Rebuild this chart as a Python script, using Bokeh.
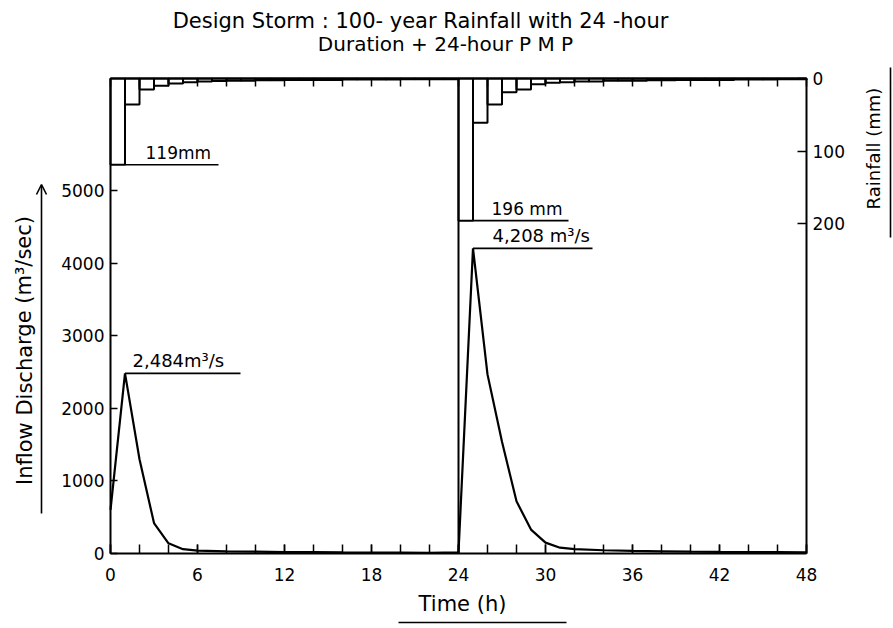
from bokeh.plotting import figure
from bokeh.models import (Range1d, LinearAxis, FixedTicker, Label, Arrow,
                          OpenHead, ColumnDataSource)
from bokeh.embed import file_html
from bokeh.resources import INLINE

# ---------------- data ----------------
rain1_start = list(range(0, 24))
rain1_mm = [119, 36, 15, 10, 7, 5, 4, 3.5, 3, 3, 2.5, 2.5, 2, 2, 2, 2,
            1.5, 1.5, 1.5, 1.5, 1, 1, 1, 1]
rain2_start = list(range(24, 48))
rain2_mm = [196, 61, 36, 19, 15, 8, 6, 5, 4, 4, 3, 3, 3, 2.5, 2.5, 2,
            2, 2, 2, 1.5, 1.5, 1.5, 1, 1]

flow_time = [0, 1, 2, 3, 4, 5, 6, 8, 10, 12, 14, 16, 18, 20, 22, 24,
             25, 26, 27, 28, 29, 30, 31, 32, 34, 36, 38, 40, 42, 44, 46, 48]
flow_q = [600, 2484, 1300, 420, 140, 60, 40, 30, 25, 20, 18, 15, 13, 12, 10, 15,
          4208, 2470, 1540, 720, 330, 150, 80, 60, 45, 35, 30, 25, 22, 20, 18, 15]

x_ticks = [0, 6, 12, 18, 24, 30, 36, 42, 48]
x_minor = list(range(0, 49, 2))
q_ticks = [0, 1000, 2000, 3000, 4000, 5000]
rain_ticks = [0, 100, 200]

peak1_t, peak1_q = 1, 2484
peak2_t, peak2_q = 25, 4208
rainpk1_t, rainpk1_mm = 1, 119
rainpk2_t, rainpk2_mm = 25, 196
event_split_t = 24

title_1 = "Design Storm : 100- year Rainfall with 24 -hour"
title_2 = "Duration + 24-hour P M P"
x_title = "Time (h)"
y_title = "Inflow Discharge (m\u00b3/sec)"
rain_title = "Rainfall (mm)"

# ---------------- layout (pixel box of the chart area) ----------------
WIN_W, WIN_H = 893, 628
L, R, T, B = 110, 806, 78, 553
Q_MAX, RAIN_MAX, T_MAX = 6550, 655, 48
FONT = "DejaVu Sans"
PX_H = (R - L) / T_MAX
PX_Q = (B - T) / Q_MAX
PX_MM = (B - T) / RAIN_MAX

def tx(px):
    return (px - L) / PX_H

def qy(py):
    return (B - py) / PX_Q

def ry(py):
    return (py - T) / PX_MM

# the frame fills the whole canvas; axes are pinned to the chart box
p = figure(width=WIN_W, height=WIN_H, output_backend="svg", toolbar_location=None,
           x_range=Range1d(tx(0), tx(WIN_W)), y_range=Range1d(qy(WIN_H), qy(0)),
           x_axis_location=None, y_axis_location=None,
           min_border=0, background_fill_color="white", border_fill_color="white")
p.extra_y_ranges = {"rain": Range1d(ry(WIN_H), ry(0))}
p.title.visible = False
p.grid.visible = False
p.outline_line_color = None

def style_axis(ax, tin, size="16px", standoff=6):
    ax.axis_line_color = "black"
    ax.axis_line_width = 2
    ax.major_tick_in = tin
    ax.major_tick_out = 0
    ax.minor_tick_in = tin
    ax.minor_tick_out = 0
    ax.major_tick_line_width = 1.5
    ax.minor_tick_line_width = 1.5
    ax.major_label_text_font = FONT
    ax.major_label_text_font_size = size
    ax.major_label_text_color = "black"
    ax.major_label_standoff = standoff

bottom = LinearAxis(ticker=FixedTicker(ticks=x_ticks, minor_ticks=x_minor),
                    bounds=(0, T_MAX), fixed_location=0)
style_axis(bottom, 9, "17px", 14)
p.add_layout(bottom, "below")

top = LinearAxis(ticker=FixedTicker(ticks=x_minor, minor_ticks=[]),
                 bounds=(0, T_MAX), fixed_location=Q_MAX,
                 major_label_overrides={t: "" for t in x_minor})
style_axis(top, 8)
p.add_layout(top, "above")

left = LinearAxis(ticker=FixedTicker(ticks=q_ticks, minor_ticks=[]),
                  bounds=(0, Q_MAX), fixed_location=0)
style_axis(left, 7, "17px", 6)
p.add_layout(left, "left")

right = LinearAxis(y_range_name="rain", ticker=FixedTicker(ticks=rain_ticks, minor_ticks=[]),
                   bounds=(0, RAIN_MAX), fixed_location=T_MAX)
style_axis(right, 9, "17px", 6)
p.add_layout(right, "right")

# ---------------- glyphs ----------------
src1 = ColumnDataSource(dict(left=rain1_start, right=[s + 1 for s in rain1_start], mm=rain1_mm))
src2 = ColumnDataSource(dict(left=rain2_start, right=[s + 1 for s in rain2_start], mm=rain2_mm))
for s in (src1, src2):
    p.quad(left="left", right="right", top=0, bottom="mm", source=s, y_range_name="rain",
           fill_color=None, line_color="black", line_width=2)

p.line(flow_time, flow_q, line_color="black", line_width=2.2)
p.segment(x0=[event_split_t], y0=[0], x1=[event_split_t], y1=[Q_MAX],
          line_color="black", line_width=2)

# leader lines for the peak annotations
p.segment(x0=[rainpk1_t, rainpk2_t], y0=[rainpk1_mm, rainpk2_mm],
          x1=[tx(218), tx(568)], y1=[rainpk1_mm, rainpk2_mm],
          y_range_name="rain", line_color="black", line_width=1.6)
p.segment(x0=[peak1_t, peak2_t], y0=[peak1_q, peak2_q],
          x1=[tx(240), tx(592)], y1=[peak1_q, peak2_q],
          line_color="black", line_width=1.6)

def lab(x, y, text, size="16px", align="left", baseline="bottom", angle=0.0,
        y_range_name="default", yoff=0):
    p.add_layout(Label(x=x, y=y, text=text, text_font=FONT, text_font_size=size,
                       text_align=align, text_baseline=baseline, angle=angle,
                       text_color="black", y_range_name=y_range_name, y_offset=yoff))

lab(tx(145), rainpk1_mm, f"{rainpk1_mm}mm", size="17px", y_range_name="rain", yoff=2)
lab(tx(491), rainpk2_mm, f"{rainpk2_mm} mm", size="17px", y_range_name="rain", yoff=2)
lab(tx(132), peak1_q, f"{peak1_q:,}m\u00b3/s", size="18px", yoff=2)
lab(tx(492), peak2_q, f"{peak2_q:,} m\u00b3/s", size="18px", yoff=2)

# titles and axis titles
lab(tx(420), qy(20), title_1, size="21px", align="center", baseline="middle")
lab(tx(445), qy(43), title_2, size="20px", align="center", baseline="middle")
lab(tx(462), qy(603), x_title, size="21px", align="center", baseline="middle")
lab(tx(24), qy(350), y_title, size="21px", align="center", baseline="middle", angle=1.5708)
lab(tx(873), qy(148), rain_title, size="18px", align="center", baseline="middle", angle=1.5708)

# underlines and the discharge arrow
p.segment(x0=[tx(398), tx(890)], y0=[qy(622), qy(67)],
          x1=[tx(566), tx(890)], y1=[qy(622), qy(237)],
          line_color="black", line_width=1.6)
p.add_layout(Arrow(end=OpenHead(size=10, line_width=1.6, line_color="black"),
                   x_start=tx(41), y_start=qy(513), x_end=tx(41), y_end=qy(184),
                   line_color="black", line_width=1.6))

open("out.html", "w").write(file_html(p, INLINE))
